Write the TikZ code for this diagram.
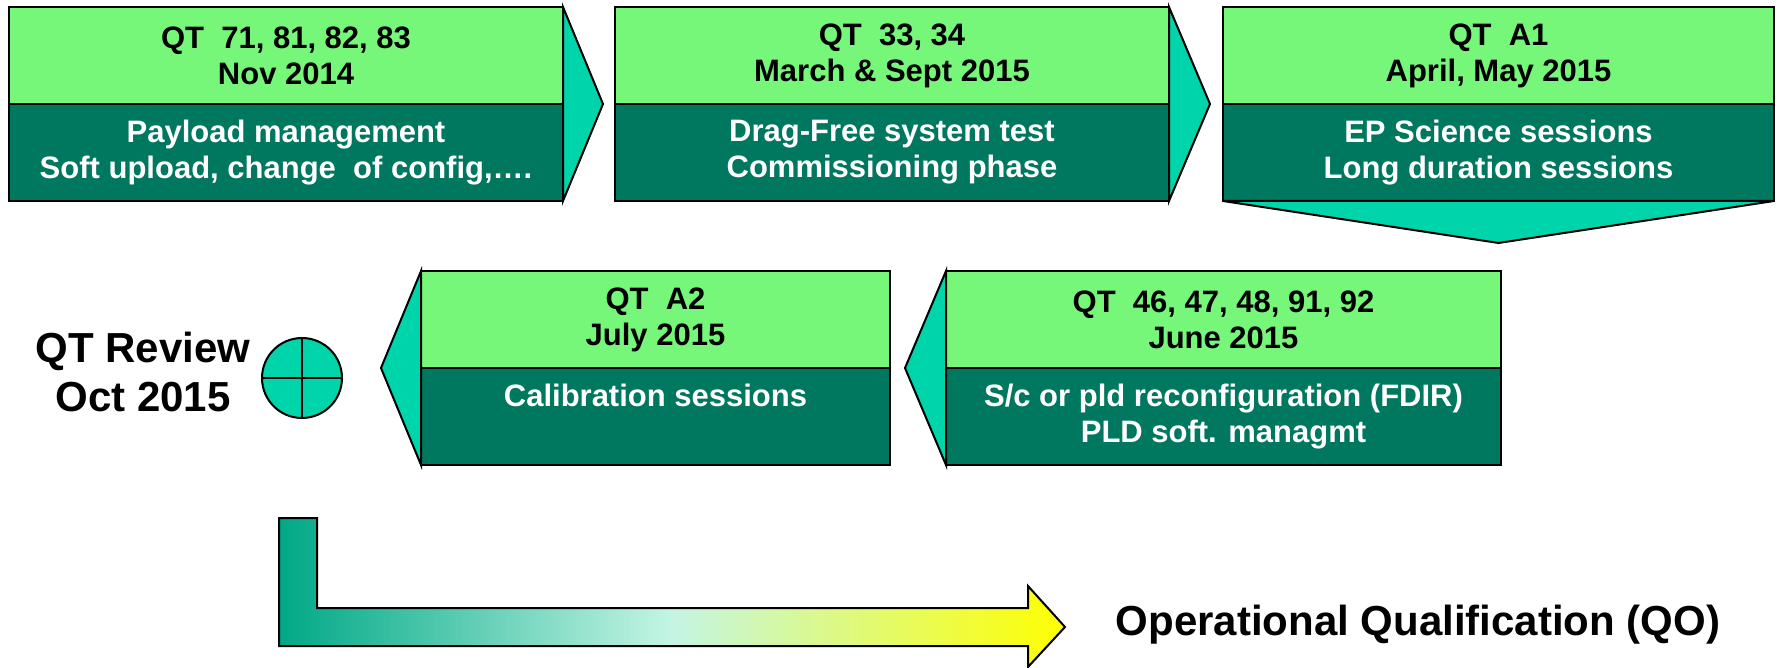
\documentclass[tikz,border=0pt]{standalone}
\usepackage{fontspec}
\setmainfont{Liberation Sans}
\usepackage{tikz}

\definecolor{headgreen}{RGB}{119,247,122}
\definecolor{bodygreen}{RGB}{0,119,95}
\definecolor{chevcol}{RGB}{0,212,170}
\definecolor{arrowteal}{RGB}{0,168,134}
\definecolor{arrowmint}{RGB}{196,245,228}

\begin{document}
\begin{tikzpicture}[x=0.5pt,y=-0.5pt,
        head/.style={draw, line width=1pt, fill=headgreen, anchor=north west,
            inner sep=0pt, outer sep=0pt, minimum height=48.5pt, align=center,
            font=\fontsize{15.5}{18}\selectfont\bfseries},
        body/.style={head, fill=bodygreen, text=white},
        chev/.style={draw, line width=1pt, fill=chevcol},
        bigtext/.style={align=center, font=\fontsize{21}{24.5}\selectfont\bfseries}]
        \useasboundingbox (0,0) rectangle (1779,668);

        % First row of boxes
        \node[head, minimum width=277pt] (h1) at (9,7) {QT~~71, 81, 82, 83\\Nov 2014};
        \node[body, minimum width=277pt] (b1) at (h1.south west) {Payload management\\Soft upload, change~~of config,….};

        \node[head, minimum width=277pt] (h2) at (615,7) {QT~~33, 34\\March \& Sept 2015};
        \node[body, minimum width=277pt] (b2) at (h2.south west) {Drag-Free system test\\Commissioning phase};

        \node[head, minimum width=275.5pt] (h3) at (1223,7) {QT~~A1\\April, May 2015};
        \node[body, minimum width=275.5pt] (b3) at (h3.south west) {EP Science sessions\\Long duration sessions};

        % Chevrons between the boxes of the first row
        \draw[chev] (h1.north east) -- ([xshift=20pt]h1.south east) -- (b1.south east) -- cycle;
        \draw[chev] (h2.north east) -- ([xshift=20.5pt]h2.south east) -- (b2.south east) -- cycle;
        \draw[chev] (b3.south west) -- ([yshift=-21pt]b3.south) -- (b3.south east) -- cycle;

        % Second row, running back to the left
        \node[head, minimum width=277.5pt] (h4) at (946,271) {QT~~46, 47, 48, 91, 92\\June 2015};
        \node[body, minimum width=277.5pt] (b4) at (h4.south west) {S/c or pld reconfiguration (FDIR)\\PLD soft. managmt};

        \node[head, minimum width=234.5pt] (h5) at (421,271) {QT~~A2\\July 2015};
        \node[body, minimum width=234.5pt, text depth=21pt] (b5) at (h5.south west) {Calibration sessions};

        \draw[chev] (h4.north west) -- ([xshift=-20.5pt]h4.south west) -- (b4.south west) -- cycle;
        \draw[chev] (h5.north west) -- ([xshift=-20pt]h5.south west) -- (b5.south west) -- cycle;

        % Review milestone
        \node[circle, draw, line width=1pt, fill=chevcol, minimum size=40pt, inner sep=0pt] (rev) at (302,378) {};
        \draw[line width=1pt] (rev.north) -- (rev.south);
        \draw[line width=1pt] (rev.west) -- (rev.east);
        \node[bigtext] (revtext) at (143,372) {QT Review\\Oct 2015};

        % Bent arrow towards the operational qualification
        \draw[line width=1pt, left color=arrowteal, right color=yellow, middle color=arrowmint]
            (279,518) -- (317,518) -- (317,608) -- (1028,608) -- (1028,586) -- (1065,627)
            -- (1028,667) -- (1028,646) -- (279,646) -- cycle;
        \node[bigtext, anchor=base] (qo) at (1418,635) {Operational Qualification (QO)};
    \end{tikzpicture}
\end{document}
